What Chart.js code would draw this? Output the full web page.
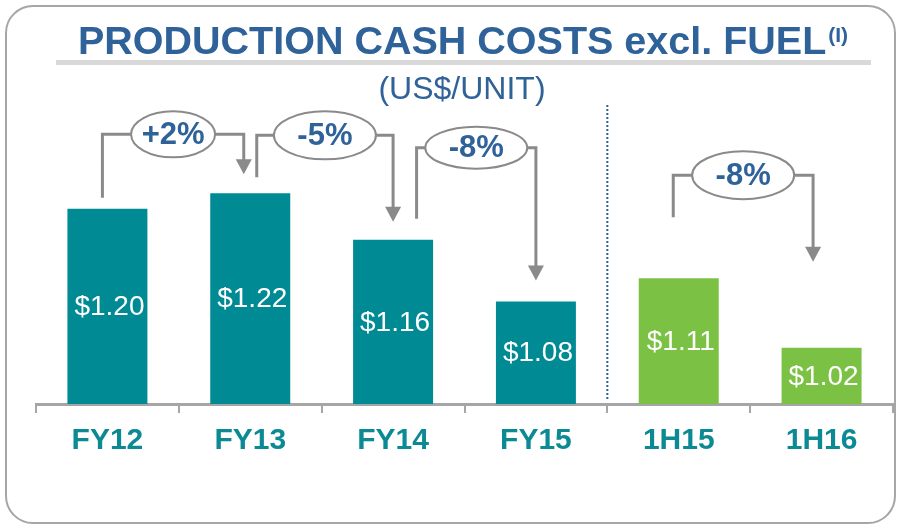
<!DOCTYPE html>
<html>
<head>
<meta charset="utf-8">
<script src="https://cdn.jsdelivr.net/npm/chart.js@4.4.1/dist/chart.umd.min.js"></script>
<style>
  html, body { margin: 0; padding: 0; background: #fff; }
  #wrap { position: relative; width: 898px; height: 525px; overflow: hidden; }
  #frame { position: absolute; left: 5px; top: 5px; width: 891px; height: 519px; box-sizing: border-box;
           border: 2px solid #a6a6a6; border-radius: 28px; pointer-events: none; }
  canvas { position: absolute; left: 0; top: 0; }
</style>
</head>
<body>
<div id="wrap">
  <canvas id="chart" width="898" height="525"></canvas>
  <div id="frame"></div>
</div>
<script>
// data
const categories = ['FY12', 'FY13', 'FY14', 'FY15', '1H15', '1H16'];
const costs = [1.20, 1.22, 1.16, 1.08, 1.11, 1.02];
const periods = ['year', 'year', 'year', 'year', 'half', 'half'];
const changeLabels = ['+2%', '-5%', '-8%', '-8%'];
const changeFrom = [0, 1, 2, 4];
const changeTo = [1, 2, 3, 5];

const TEAL = '#008a94';
const GREEN = '#7bc143';
const BLUE = '#2f6299';
const GREY = '#8a8a8a';
const FONT = "'Liberation Sans', Arial, sans-serif";

// where each change bracket sits, relative to the bars it joins
const bracketLayout = [
  { dxL: -5, gapL: 11, dxR: -6.5, gapR: 19, rise: 59, w: 84, h: 46 },
  { dxL: 6.5, gapL: 16, dxR: 0, gapR: 18, rise: 58, w: 102, h: 48 },
  { dxL: 23.5, gapL: 21, dxR: 0, gapR: 21, rise: 92, w: 102, h: 42 },
  { dxL: -5.5, gapL: 61, dxR: -8.5, gapR: 86, rise: 103, w: 102, h: 48 }
];

const decorations = {
  id: 'decorations',
  afterDraw(chart) {
    const ctx = chart.ctx;
    const bars = chart.getDatasetMeta(0).data;
    const area = chart.chartArea;
    const yScale = chart.scales.y;
    ctx.save();

    // title
    const title = 'PRODUCTION CASH COSTS excl. FUEL';
    const sup = '(I)';
    ctx.fillStyle = BLUE;
    ctx.textBaseline = 'alphabetic';
    ctx.font = 'bold 39.5px ' + FONT;
    const tw = ctx.measureText(title).width;
    ctx.font = 'bold 21px ' + FONT;
    const sw = ctx.measureText(sup).width;
    const tx = 463 - (tw + sw + 2) / 2;
    ctx.font = 'bold 39.5px ' + FONT;
    ctx.textAlign = 'left';
    ctx.fillText(title, tx, 54);
    ctx.font = 'bold 21px ' + FONT;
    ctx.fillText(sup, tx + tw + 2, 42);

    ctx.fillStyle = '#d9d9d9';
    ctx.fillRect(56, 60, 815, 5);

    ctx.fillStyle = BLUE;
    ctx.font = '32px ' + FONT;
    ctx.textAlign = 'center';
    ctx.textBaseline = 'middle';
    ctx.fillText('(US$/UNIT)', 462, 90);

    // value labels inside bars
    ctx.fillStyle = '#ffffff';
    ctx.font = '28px ' + FONT;
    ctx.textAlign = 'center';
    ctx.textBaseline = 'middle';
    costs.forEach((v, i) => {
      const top = yScale.getPixelForValue(v);
      const x = bars[i].x;
      ctx.fillText('$' + v.toFixed(2), x + 2, (top + area.bottom) / 2 + 1);
    });

    // divider between full years and half years
    const xDiv = (bars[3].x + bars[4].x) / 2;
    ctx.strokeStyle = BLUE;
    ctx.lineWidth = 2;
    ctx.setLineDash([2, 2]);
    ctx.beginPath();
    ctx.moveTo(xDiv, area.top + 5);
    ctx.lineTo(xDiv, area.bottom - 4);
    ctx.stroke();
    ctx.setLineDash([]);

    // change brackets
    changeLabels.forEach((label, k) => {
      const L = bracketLayout[k];
      const a = bars[changeFrom[k]];
      const b = bars[changeTo[k]];
      const ya = yScale.getPixelForValue(costs[changeFrom[k]]);
      const yb = yScale.getPixelForValue(costs[changeTo[k]]);
      const xl = a.x + L.dxL;
      const xr = b.x + L.dxR;
      const level = Math.min(ya, yb) - L.rise;
      const yl = ya - L.gapL;
      const tip = yb - L.gapR;
      const cx = (xl + xr) / 2;

      ctx.strokeStyle = GREY;
      ctx.lineWidth = 3;
      ctx.beginPath();
      ctx.moveTo(xl, yl);
      ctx.lineTo(xl, level);
      ctx.lineTo(xr, level);
      ctx.lineTo(xr, tip - 14);
      ctx.stroke();

      ctx.fillStyle = GREY;
      ctx.beginPath();
      ctx.moveTo(xr - 8, tip - 15);
      ctx.lineTo(xr + 8, tip - 15);
      ctx.lineTo(xr, tip);
      ctx.closePath();
      ctx.fill();

      ctx.beginPath();
      ctx.ellipse(cx, level, L.w / 2, L.h / 2, 0, 0, Math.PI * 2);
      ctx.fillStyle = '#fff';
      ctx.fill();
      ctx.lineWidth = 2;
      ctx.strokeStyle = GREY;
      ctx.stroke();

      ctx.fillStyle = BLUE;
      ctx.font = 'bold 31px ' + FONT;
      ctx.textAlign = 'center';
      ctx.textBaseline = 'middle';
      ctx.fillText(label, cx, level + 1);
    });

    ctx.restore();
  }
};

new Chart(document.getElementById('chart'), {
  type: 'bar',
  data: {
    labels: categories,
    datasets: [{
      data: costs,
      backgroundColor: periods.map(p => p === 'year' ? TEAL : GREEN),
      borderWidth: 0,
      barPercentage: 0.56,
      categoryPercentage: 1
    }]
  },
  options: {
    responsive: false,
    animation: false,
    layout: { padding: { top: 100, bottom: 56, left: 36, right: 5 } },
    plugins: { legend: { display: false }, tooltip: { enabled: false } },
    scales: {
      y: { display: false, min: 0.947, max: 1.341 },
      x: {
        grid: { display: true, drawOnChartArea: false, drawTicks: true, tickLength: 9, color: '#a6a6a6', lineWidth: 2 },
        border: { display: true, color: '#a6a6a6', width: 3 },
        ticks: { color: '#0b8a94', padding: 10, font: { family: FONT, size: 30, weight: 'bold' } }
      }
    }
  },
  plugins: [decorations]
});
</script>
</body>
</html>
